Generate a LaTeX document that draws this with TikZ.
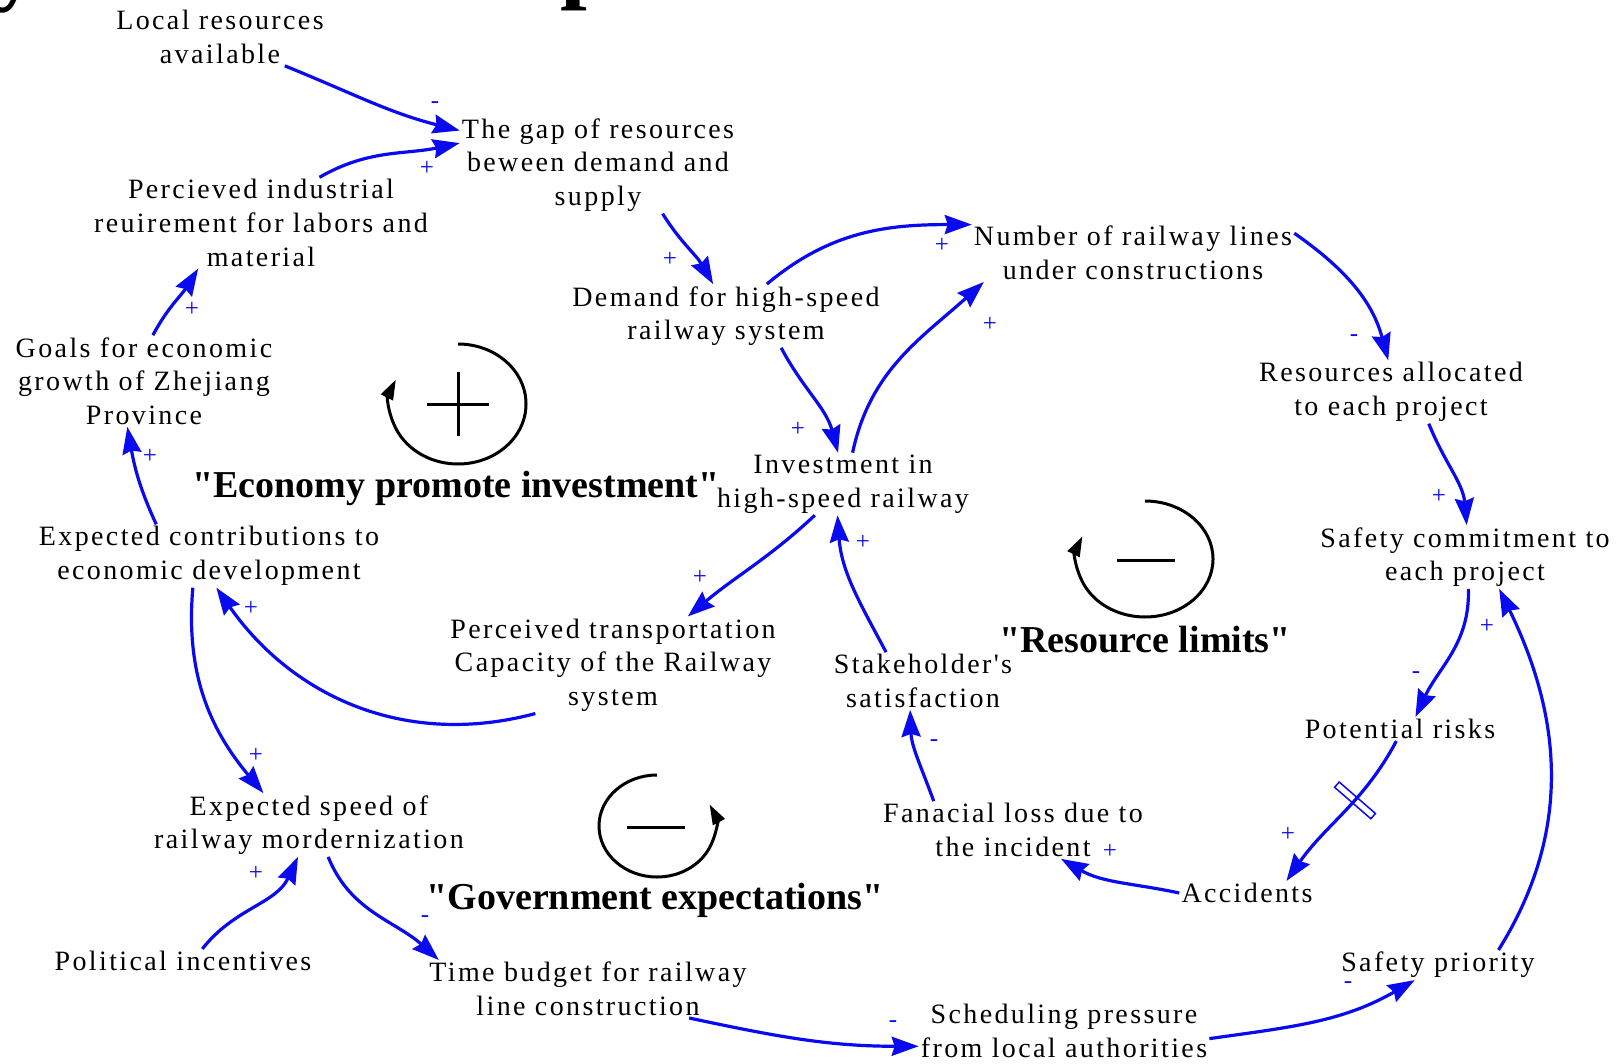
\documentclass[tikz,border=0pt]{standalone}
\usepackage{fontspec}
\setmainfont{Liberation Serif}
\newfontfamily\varfont[LetterSpace=8.5]{Liberation Serif}
\newfontfamily\ttlfont[Ligatures=TeXOff]{Liberation Serif}
\usetikzlibrary{arrows.meta}
\definecolor{cldblue}{RGB}{10,10,240}
\begin{document}
\begin{tikzpicture}[x=1pt,y=-1pt,
  var/.style={align=center, font=\varfont\fontsize{28}{33.6}\selectfont, inner sep=2pt},
  pol/.style={text=cldblue, font=\fontsize{25}{25}\selectfont, inner sep=0pt},
  lnk/.style={draw=cldblue, line width=3.2pt, -{Stealth[length=27pt,width=19pt,inset=3pt]}},
  looparc/.style={draw=black, line width=3pt, -{Triangle[length=20pt,width=13pt]}},
  loopsign/.style={draw=black, line width=3pt},
  looptitle/.style={font=\ttlfont\bfseries\fontsize{38}{38}\selectfont, inner sep=0pt, anchor=base},
  delaymark/.style={draw=cldblue, line width=1.5pt, minimum width=7pt, minimum height=48pt, inner sep=0pt, sloped},
  ttl/.style={anchor=base west, inner sep=0pt, font=\bfseries\fontsize{96}{96}\selectfont}
]
\fill[white] (0,0) rectangle (1624,1064);
\useasboundingbox (0,0) rectangle (1624,1064);

% heading letters cut by the top edge
\begin{scope}
  \clip (0,0) rectangle (1624,1064);
  \node[ttl] (ttly) at (-8,-7) {y};
  \node[ttl] (ttlp) at (560,-9) {p};
\end{scope}

% variables
\node[var] (lra)   at (220,37)   {Local resources\\available};
\node[var] (gap)   at (598,165)  {The gap of resources\\beween demand and\\supply};
\node[var] (pir)   at (261,223)  {Percieved industrial\\reuirement for labors and\\material};
\node[var] (goals) at (144,381)  {Goals for economic\\growth of Zhejiang\\Province};
\node[var] (ecd)   at (209,556)  {Expected contributions to\\economic development};
\node[var] (esp)   at (309,825)  {Expected speed of\\railway mordernization};
\node[var] (pol)   at (183,961)  {Political incentives};
\node[var] (tbr)   at (588,989)  {Time budget for railway\\line construction};
\node[var] (sch)   at (1064,1031){Scheduling pressure\\from local authorities};
\node[var] (sfp)   at (1438,965) {Safety priority};
\node[var] (acc)   at (1247,893) {Accidents};
\node[var] (fin)   at (1013,830) {Fanacial loss due to\\the incident};
\node[var] (stk)   at (923,681)  {Stakeholder's\\satisfaction};
\node[var] (ptc)   at (613,665)  {Perceived transportation\\Capacity of the Railway\\system};
\node[var] (inv)   at (843,484)  {Investment in\\high-speed railway};
\node[var] (dem)   at (726,316)  {Demand for high-speed\\railway system};
\node[var] (num)   at (1133,253) {Number of railway lines\\under constructions};
\node[var] (res)   at (1391,392) {Resources allocated\\to each project};
\node[var] (scm)   at (1465,557) {Safety commitment to\\each project};
\node[var] (pot)   at (1400,729) {Potential risks};

% causal links
\draw[lnk] (lra.-24)  to[out=-22, in=166] (gap.166);
\draw[lnk] (pir.38)   to[out=30, in=192]  (gap.171);
\draw[lnk] (gap.-37)  to[out=-58, in=120] (dem.112);
\draw[lnk] (goals.79) to[out=62, in=238]  (pir.216);
\draw[lnk] (ecd.149)  to[out=115, in=-80] (goals.250);
\draw[lnk] (ptc.212)  to[out=195, in=-55] (ecd.-77);
\draw[lnk] (ecd.243)  to[out=-95, in=130] (esp.145);
\draw[lnk] (pol.32)   to[out=52, in=245]  (esp.251);
\draw[lnk] (esp.-59)  to[out=-68, in=138] (tbr.169);
\draw[lnk] (tbr.-16)  to[out=-12, in=180] (sch.186);
\draw[lnk] (sch.-3)   to[out=8, in=210]   (sfp.213);
\draw[lnk] (sfp.14)   to[out=58, in=-64]  (scm.-43);
\draw[lnk] (scm.-84)  to[out=-88, in=65]  (pot.38);
\draw[lnk] (pot.253)  to[out=-118, in=55] node[delaymark, pos=0.4] (dly) {} (acc.17);
\draw[lnk] (acc.180)  to[out=168, in=-30] (fin.-31);
\draw[lnk] (fin.160)  to[out=110, in=-88] (stk.246);
\draw[lnk] (stk.142)  to[out=118, in=-86] (inv.260);
\draw[lnk] (inv.228)  to[out=-137, in=40] (ptc.33);
\draw[lnk] (dem.-30)  to[out=-62, in=105] (inv.99);
\draw[lnk] (dem.38)   to[out=40, in=180]  (num.170);
\draw[lnk] (inv.73)   to[out=78, in=-138] (num.191);
\draw[lnk] (num.7)    to[out=-35, in=105] (res.95);
\draw[lnk] (res.-40)  to[out=-68, in=95]  (scm.87);

% link polarities
\node[pol] (pA) at (435,105)  {-};
\node[pol] (pB) at (427,168)  {+};
\node[pol] (pC) at (670,259)  {+};
\node[pol] (pD) at (192,309)  {+};
\node[pol] (pE) at (150,456)  {+};
\node[pol] (pF) at (251,608)  {+};
\node[pol] (pG) at (256,755)  {+};
\node[pol] (pH) at (256,873)  {+};
\node[pol] (pI) at (425,919)  {-};
\node[pol] (pJ) at (893,1024) {-};
\node[pol] (pK) at (1348,985) {-};
\node[pol] (pL) at (1487,626) {+};
\node[pol] (pM) at (1416,675) {-};
\node[pol] (pN) at (1288,834) {+};
\node[pol] (pO) at (1110,851) {+};
\node[pol] (pP) at (934,743)  {-};
\node[pol] (pQ) at (863,542)  {+};
\node[pol] (pR) at (700,577)  {+};
\node[pol] (pS) at (798,429)  {+};
\node[pol] (pT) at (942,245)  {+};
\node[pol] (pU) at (990,324)  {+};
\node[pol] (pV) at (1354,338) {-};
\node[pol] (pW) at (1439,496) {+};

% loop markers
\draw[looparc] (458,344) arc[start angle=90, end angle=-204, x radius=68pt, y radius=60pt];
\draw[loopsign] (427,404) -- (489,404) (458,372) -- (458,436);
\node[looptitle] (t1) at (456,497) {"Economy promote investment"};

\draw[looparc] (1145,501) arc[start angle=90, end angle=-203, x radius=68pt, y radius=58pt];
\draw[loopsign] (1117,560) -- (1175,560);
\node[looptitle] (t2) at (1145,652) {"Resource limits"};

\draw[looparc] (657,775) arc[start angle=90, end angle=385, x radius=58pt, y radius=51pt];
\draw[loopsign] (627,827) -- (685,827);
\node[looptitle] (t3) at (655,909) {"Government expectations"};
\end{tikzpicture}
\end{document}
